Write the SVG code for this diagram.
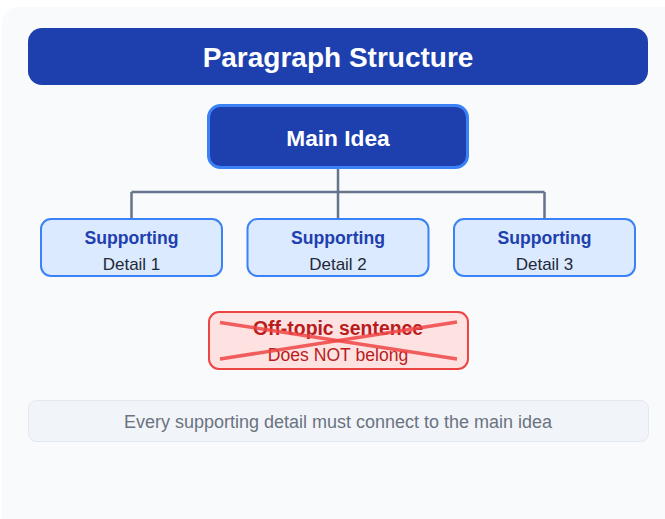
<svg xmlns="http://www.w3.org/2000/svg" width="665" height="519" viewBox="0 0 665 519">
<style>
text{font-family:"Liberation Sans",Arial,sans-serif;text-anchor:middle}
.sup{fill:#dbeafe;stroke:#3b82f6;stroke-width:2}
.supT{font-size:17.6px;font-weight:bold;fill:#1e40af}
.supD{font-size:17px;fill:#1f2937}
.conn{stroke:#64748b;stroke-width:2.5;fill:none}
.cross{stroke:#ef4444;stroke-width:3.5;stroke-opacity:0.85}
</style>
<rect x="0" y="0" width="665" height="519" fill="#ffffff"/>
<rect x="2" y="7" width="700" height="530" rx="16" fill="#f8fafc"/>
<g id="title">
<rect x="28" y="28" width="620" height="57" rx="14" fill="#1e40af"/>
<text x="338" y="67" font-size="28" font-weight="bold" fill="#ffffff">Paragraph Structure</text>
</g>
<g id="connectors">
<path class="conn" d="M338 168V192M131.5 192H544.5M131.5 192V219M338 192V219M544.5 192V219"/>
</g>
<g id="main">
<rect x="208.5" y="105.5" width="259" height="62" rx="12" fill="#1e40af" stroke="#3b82f6" stroke-width="3"/>
<text x="338" y="146" font-size="22.7" font-weight="bold" fill="#ffffff">Main Idea</text>
</g>
<g id="detail1">
<rect class="sup" x="41" y="219" width="181" height="57" rx="10"/>
<text class="supT" x="131.5" y="243.5">Supporting</text>
<text class="supD" x="131.5" y="270">Detail 1</text>
</g>
<g id="detail2">
<rect class="sup" x="247.5" y="219" width="181" height="57" rx="10"/>
<text class="supT" x="338" y="243.5">Supporting</text>
<text class="supD" x="338" y="270">Detail 2</text>
</g>
<g id="detail3">
<rect class="sup" x="454" y="219" width="181" height="57" rx="10"/>
<text class="supT" x="544.5" y="243.5">Supporting</text>
<text class="supD" x="544.5" y="270">Detail 3</text>
</g>
<g id="offtopic">
<rect x="209" y="312" width="259" height="57" rx="10" fill="#fee2e2" stroke="#ef4444" stroke-width="2"/>
<text x="338" y="334.5" font-size="19.4" font-weight="bold" fill="#b91c1c">Off-topic sentence</text>
<text x="338" y="360.5" font-size="17.6" fill="#b91c1c">Does NOT belong</text>
<line class="cross" x1="220" y1="322.5" x2="457" y2="359"/>
<line class="cross" x1="220" y1="359" x2="457" y2="322"/>
</g>
<g id="note">
<rect x="28.5" y="400.5" width="620" height="41" rx="8" fill="#f1f5f9" stroke="#e2e8f0" stroke-width="1"/>
<text x="338" y="428" font-size="18" fill="#6b7280">Every supporting detail must connect to the main idea</text>
</g>
</svg>
